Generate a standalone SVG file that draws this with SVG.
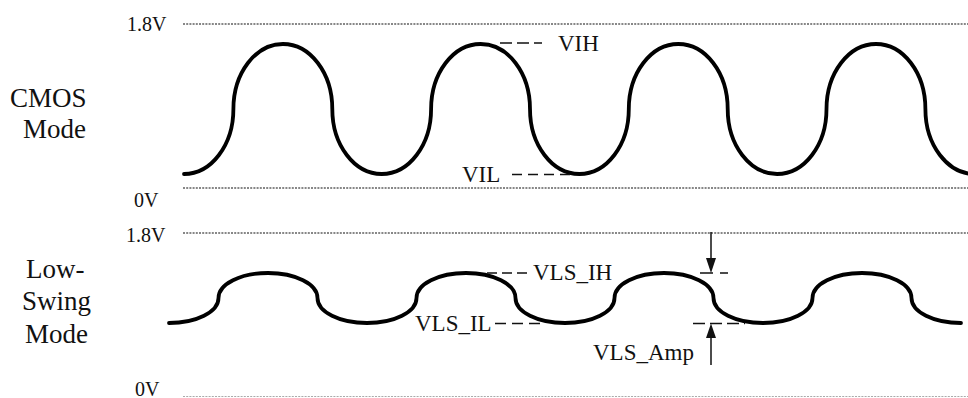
<svg xmlns="http://www.w3.org/2000/svg" width="968" height="398" viewBox="0 0 968 398">
<style>
text{font-family:"Liberation Serif","Times New Roman","DejaVu Serif",serif;fill:#111}
.lvl{font-size:20px}
.mode{font-size:27px}
.lab{font-size:23px}
.dot{stroke:#111;stroke-width:1.2;stroke-dasharray:2 1.2;fill:none}
.dotg{stroke:#aaa;stroke-width:1.2;stroke-dasharray:2 1.2;fill:none}
.wave{stroke:#000;stroke-width:3.8;fill:none;stroke-linecap:round;stroke-linejoin:round}
.ref{stroke:#111;stroke-width:1.5;fill:none}
.arr{stroke:#111;stroke-width:1.5;fill:none}
</style>
<rect width="968" height="398" fill="#fff"/>
<g id="grid">
<line class="dot" x1="183" y1="24" x2="968" y2="24"/>
<line class="dot" x1="183" y1="188" x2="968" y2="188"/>
<line class="dot" x1="183" y1="233" x2="968" y2="233"/>
<line class="dotg" x1="183" y1="396.5" x2="968" y2="396.5"/>
</g>
<g id="labels" font-family="Liberation Serif, Times New Roman, serif">
<text class="lvl" x="127" y="31">1.8V</text>
<text class="lvl" x="134" y="207">0V</text>
<text class="lvl" x="126" y="242">1.8V</text>
<text class="lvl" x="135" y="395.5">0V</text>
<text class="mode" x="10" y="107">CMOS</text>
<text class="mode" x="23" y="138">Mode</text>
<text class="mode" x="26" y="278">Low-</text>
<text class="mode" x="22" y="310">Swing</text>
<text class="mode" x="25" y="343">Mode</text>
</g>
<g id="cmos-wave">
<path class="wave" d="M184,174 C211.3,174 233.4,145 233.4,109 C233.4,73 255.6,44 282.9,44 C310.2,44 332.3,73 332.3,109 C332.3,145 354.4,174 381.7,174 C409,174 431.1,145 431.1,109 C431.1,73 453.3,44 480.6,44 C507.9,44 530,73 530,109 C530,145 552.1,174 579.4,174 C606.7,174 628.8,145 628.8,109 C628.8,73 651,44 678.3,44 C705.6,44 727.7,73 727.7,109 C727.7,145 749.8,174 777.1,174 C804.4,174 826.5,145 826.5,109 C826.5,73 848.7,44 876,44 C903.3,44 925.4,73 925.4,109 C925.4,145 947.5,174 974.8,174"/>
</g>
<g id="lowswing-wave">
<path class="wave" d="M169,323 C196.3,323 218.5,312 218.5,298 C218.5,284 240.7,273 268,273 C295.3,273 317.5,284 317.5,298 C317.5,312 339.7,323 367,323 C394.3,323 416.5,312 416.5,298 C416.5,284 438.7,273 466,273 C493.3,273 515.5,284 515.5,298 C515.5,312 537.7,323 565,323 C592.3,323 614.5,312 614.5,298 C614.5,284 636.7,273 664,273 C691.3,273 713.5,284 713.5,298 C713.5,312 735.7,323 763,323 C790.3,323 812.5,312 812.5,298 C812.5,284 834.7,273 862,273 C889.3,273 911.5,284 911.5,298 C911.5,312 933.7,323 961,323"/>
</g>
<g id="connectors">
<line class="ref" x1="500" y1="43" x2="542" y2="43" stroke-dasharray="12 5"/>
<line class="ref" x1="512" y1="174.5" x2="575" y2="174.5" stroke-dasharray="10 6"/>
<line class="ref" x1="487" y1="273" x2="531" y2="273" stroke-dasharray="10 5"/>
<line class="ref" x1="495" y1="323.5" x2="545" y2="323.5" stroke-dasharray="11 6"/>
<line class="ref" x1="700" y1="273" x2="728" y2="273" stroke-dasharray="13 7"/>
<line class="ref" x1="693" y1="323.5" x2="745" y2="323.5" stroke-dasharray="12 5"/>
<line class="arr" x1="711" y1="232" x2="711" y2="260"/>
<polygon points="706,258 716,258 711,273" fill="#111"/>
<line class="arr" x1="711" y1="365" x2="711" y2="336"/>
<polygon points="706,338 716,338 711,323.5" fill="#111"/>
</g>
<g id="annotations" font-family="Liberation Serif, Times New Roman, serif">
<text class="lab" x="558" y="51">VIH</text>
<text class="lab" x="462" y="182" font-size="22">VIL</text>
<text class="lab" x="533" y="280">VLS_IH</text>
<text class="lab" x="415" y="331">VLS_IL</text>
<text class="lab" x="593" y="360">VLS_Amp</text>
</g>
</svg>
